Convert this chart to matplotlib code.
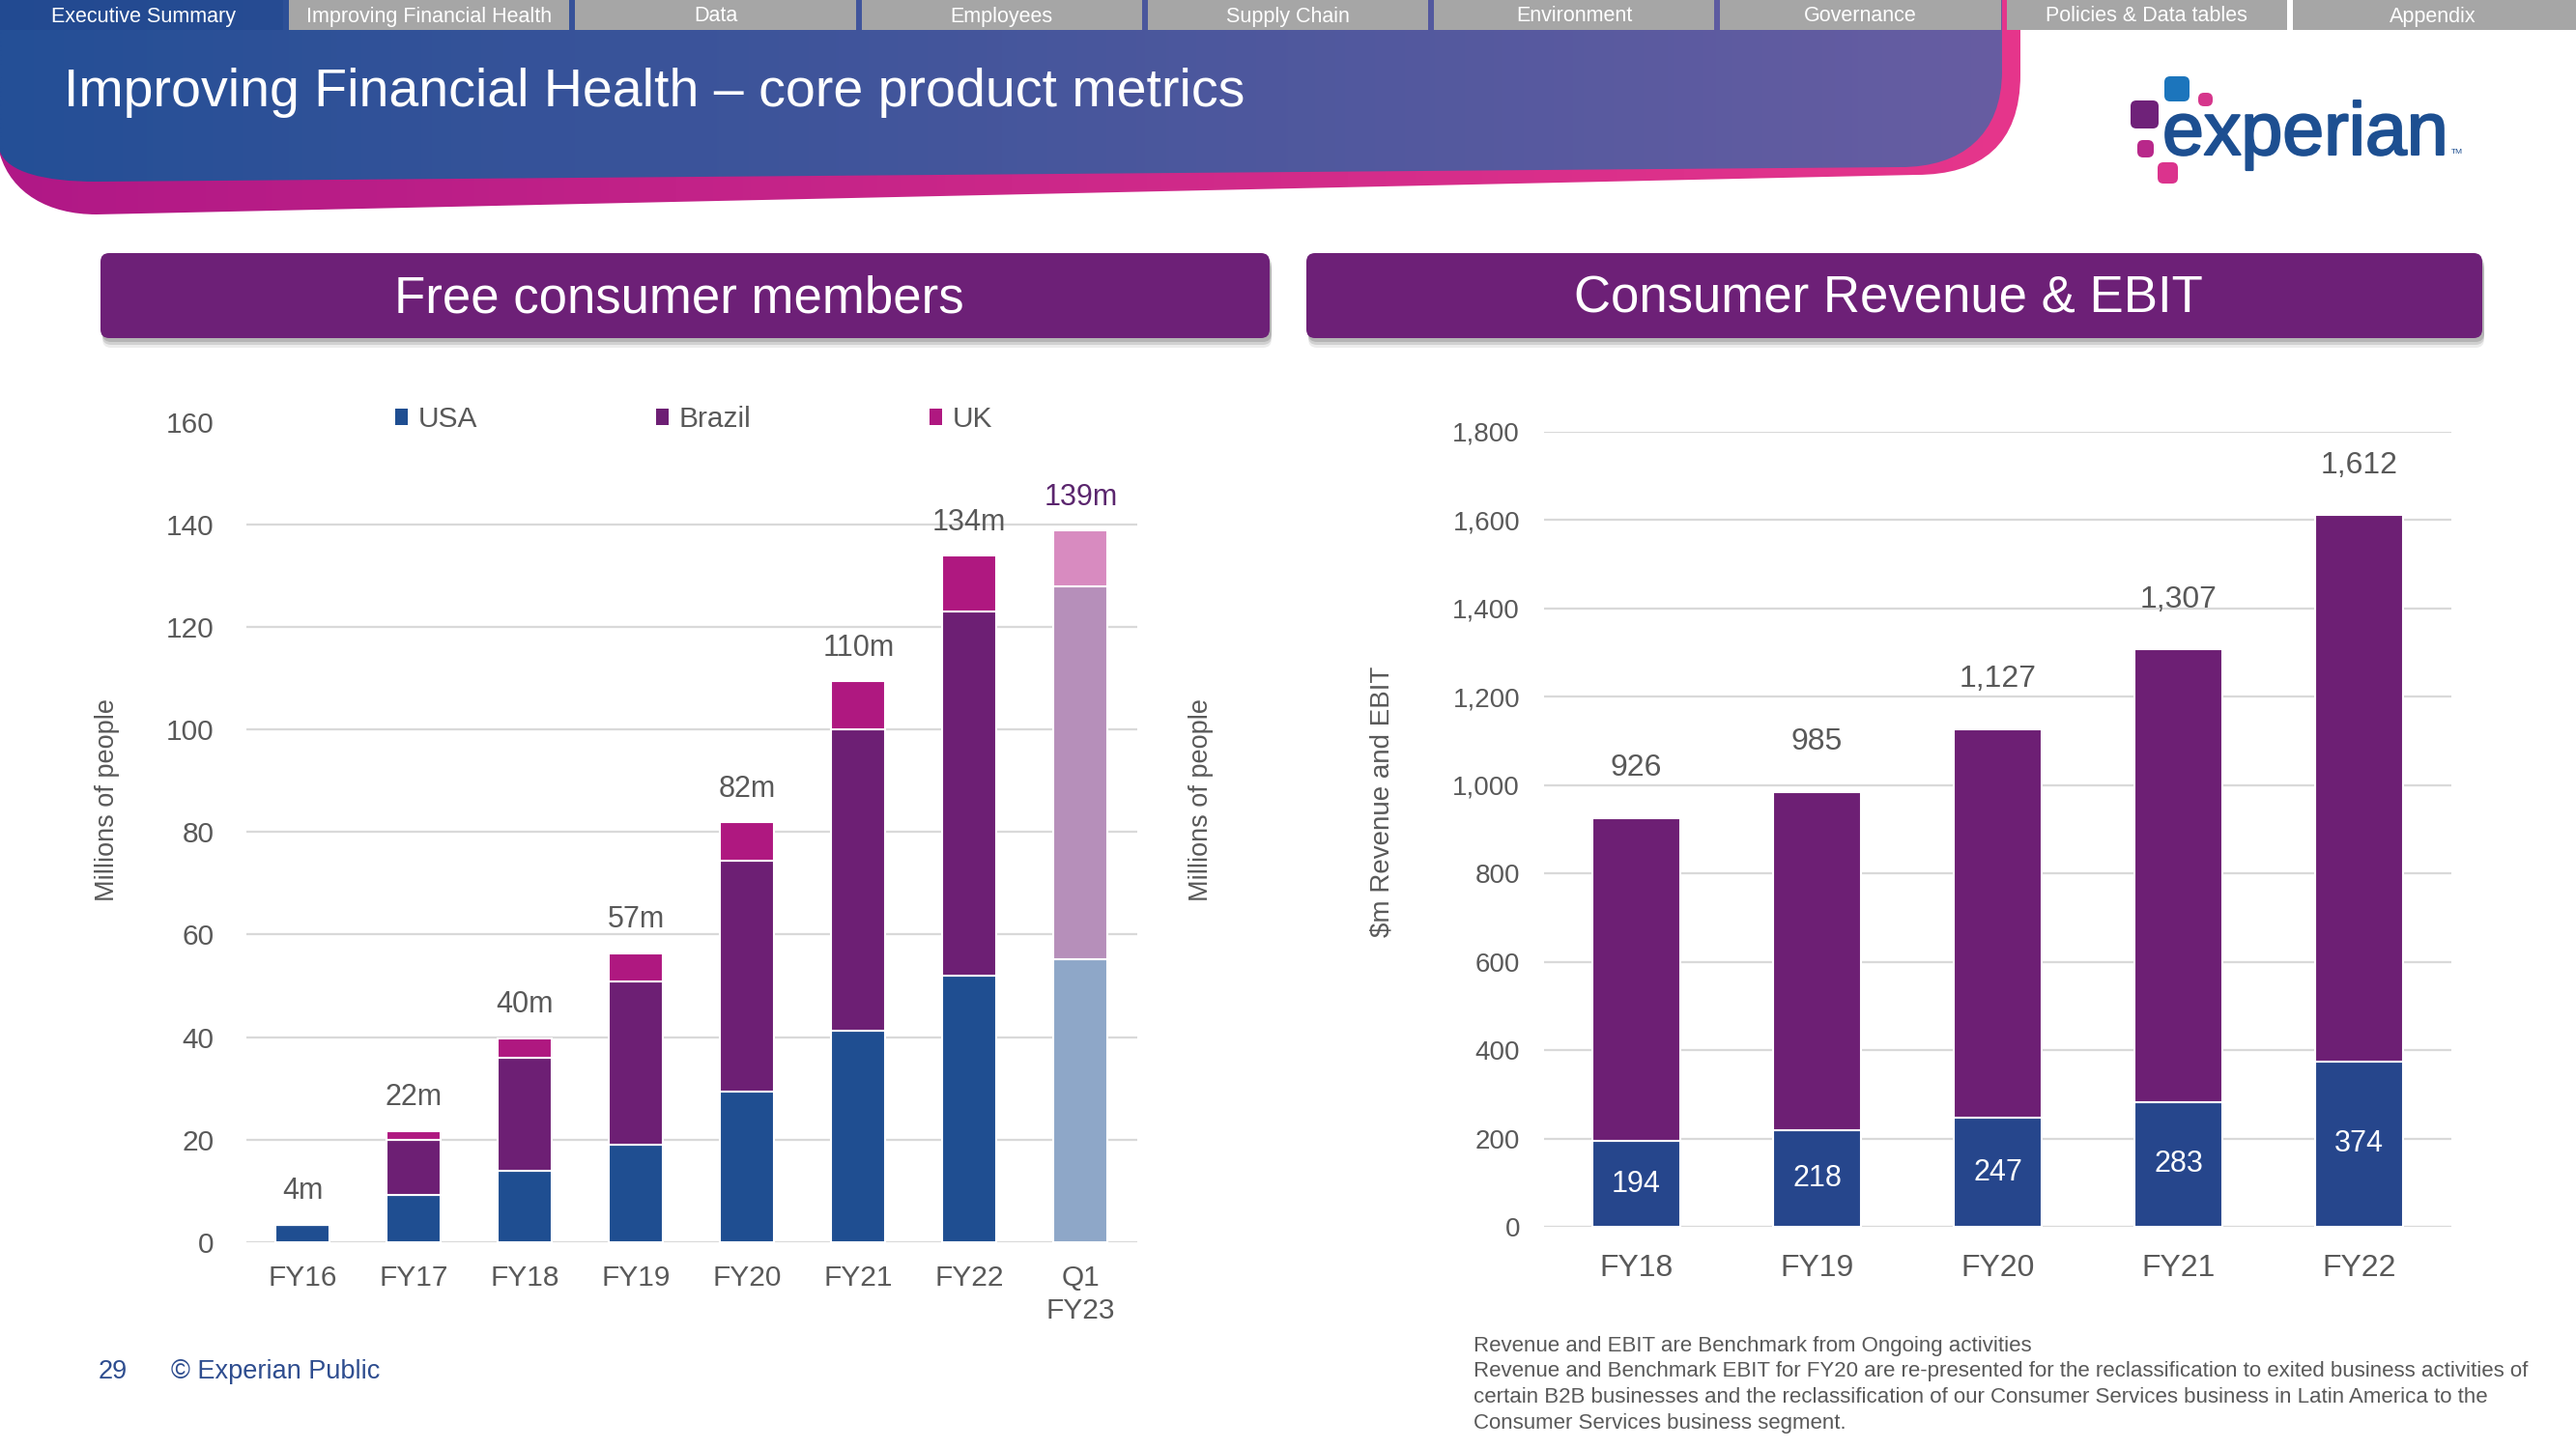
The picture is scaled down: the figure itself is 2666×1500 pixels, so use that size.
import matplotlib
matplotlib.use("Agg")
import matplotlib.pyplot as plt
import numpy as np
from matplotlib.patches import FancyBboxPatch, Rectangle, PathPatch, Patch
from matplotlib.path import Path
from matplotlib.ticker import FuncFormatter
import matplotlib.patheffects as pe

plt.rcParams['font.family'] = ['Liberation Sans', 'DejaVu Sans']

# ---------------- data ----------------
member_cats = ["FY16", "FY17", "FY18", "FY19", "FY20", "FY21", "FY22", "Q1\nFY23"]
usa = [3.4, 9.1, 13.9, 19.0, 29.4, 41.3, 52.0, 55.2]
brazil = [0.0, 10.9, 22.1, 31.9, 45.0, 58.8, 71.0, 72.8]
uk = [0.0, 1.6, 3.8, 5.5, 7.5, 9.3, 10.9, 10.8]
member_labels = ["4m", "22m", "40m", "57m", "82m", "110m", "134m", "139m"]
member_ticks = [0, 20, 40, 60, 80, 100, 120, 140, 160]
series_names = ["USA", "Brazil", "UK"]

fin_cats = ["FY18", "FY19", "FY20", "FY21", "FY22"]
revenue = [926, 985, 1127, 1307, 1612]
ebit = [194, 218, 247, 283, 374]
fin_ticks = [0, 200, 400, 600, 800, 1000, 1200, 1400, 1600, 1800]

nav_tabs = ["Executive Summary", "Improving Financial Health", "Data", "Employees",
            "Supply Chain", "Environment", "Governance", "Policies & Data tables", "Appendix"]
title = "Improving Financial Health \u2013 core product metrics"
box_titles = ["Free consumer members", "Consumer Revenue & EBIT"]
footnotes = ["Revenue and EBIT are Benchmark from Ongoing activities",
             "Revenue and Benchmark EBIT for FY20 are re-presented for the reclassification to exited business activities of",
             "certain B2B businesses and the reclassification of our Consumer Services business in Latin America to the",
             "Consumer Services business segment."]

# ---------------- colours ----------------
C_USA, C_BRA, C_UK = "#1F4E91", "#6D1F74", "#AF1880"
C_USA_L, C_BRA_L, C_UK_L = "#8EA7C8", "#B68FBA", "#D88BC0"
C_EBIT, C_REV = "#26468C", "#6D1F74"
GRID = "#D9D9D9"
TXT = "#595959"

W, H = 2666, 1500
fig = plt.figure(figsize=(W / 100, H / 100), dpi=100)

# ---------------- background / slide furniture ----------------
bg = fig.add_axes([0, 0, 1, 1], zorder=0)
bg.set_xlim(0, W)
bg.set_ylim(H, 0)
bg.axis('off')

M, L, C4, CL = Path.MOVETO, Path.LINETO, Path.CURVE4, Path.CLOSEPOLY
codes = [M, L, L, C4, C4, C4, L, C4, C4, C4, CL]


def grad_fill(verts, c0, c1, x0, x1, z):
    patch = PathPatch(Path(verts, codes), facecolor='none', edgecolor='none', zorder=z)
    bg.add_patch(patch)
    g = np.linspace(0, 1, 256)[:, None]
    cols = (np.array(c0)[None, :] * (1 - g) + np.array(c1)[None, :] * g) / 255.0
    im = bg.imshow(cols[None, :, :], extent=[x0, x1, 300, 0], aspect='auto', zorder=z,
                   interpolation='bilinear')
    im.set_clip_path(patch)


pink_v = [(0, 0), (2091, 0), (2091, 77), (2091, 150), (2050, 181), (1983, 181),
          (100, 222), (50, 222), (12, 200), (0, 160), (0, 0)]
blue_v = [(0, 0), (2072, 0), (2072, 73), (2072, 140), (2030, 173), (1967, 173),
          (100, 188), (45, 188), (8, 178), (0, 157), (0, 0)]
grad_fill(pink_v, (176, 24, 134), (230, 54, 140), 0, 2095, 1)
grad_fill(blue_v, (36, 79, 150), (103, 93, 162), 0, 2075, 2)
bg.set_xlim(0, W)
bg.set_ylim(H, 0)

# navigation tabs
tw = W / 9
for i, t in enumerate(nav_tabs):
    x0 = i * tw
    if i == 0:
        bg.add_patch(Rectangle((0, 0), tw - 3, 31, fc="#22488F", ec='none', zorder=3, alpha=0.6))
    else:
        bg.add_patch(Rectangle((x0 + 3, 0), tw - 6 if i < 8 else tw - 3, 31,
                               fc="#A6A6A6", ec='none', zorder=3))
    bg.text(x0 + tw / 2, 17, t, color='white', fontsize=15.5, ha='center', va='center', zorder=4)

bg.text(66, 110, title, color='white', fontsize=40, ha='left', va='baseline', zorder=4)

# logo
dots = [(2240, 79, 26, 26, "#1C75BC"), (2275, 96, 15, 14, "#D6368C"),
        (2205, 104, 29, 29, "#6F2279"), (2212, 145, 17, 18, "#B8288A"),
        (2233, 168, 21, 22, "#DB338D")]
for x0, y0, w, h, c in dots:
    bg.add_patch(FancyBboxPatch((x0, y0), w, h, boxstyle="round,pad=0,rounding_size=6",
                                fc=c, ec='none', zorder=4))
bg.text(2238, 160, "experian", color="#1D4F91", fontsize=55.5, ha='left', va='baseline', zorder=4,
        path_effects=[pe.withStroke(linewidth=1.6, foreground="#1D4F91")])
bg.text(2537, 159, "TM", color="#1D4F91", fontsize=6, ha='left', va='baseline', zorder=4)

# section title boxes
for (x0, x1), lab in zip([(104, 1314), (1352, 2569)], box_titles):
    for k, a in [(10, 0.15), (7, 0.25), (4, 0.35)]:
        bg.add_patch(FancyBboxPatch((x0 + 2, 262 + k), x1 - x0, 88,
                                    boxstyle="round,pad=0,rounding_size=9",
                                    fc="#808080", ec='none', alpha=a, zorder=3))
    bg.add_patch(FancyBboxPatch((x0, 262), x1 - x0, 88, boxstyle="round,pad=0,rounding_size=9",
                                fc="#6D2077", ec='none', zorder=4))
    bg.text((x0 + x1) / 2 - 6, 324, lab, color='white', fontsize=38, ha='center', va='baseline', zorder=5)

# footer
fig.text(102 / W, 1 - 1420 / H, "29", color="#2E4D8F", fontsize=19.5, va='center', ha='left')
fig.text(177 / W, 1 - 1420 / H, "\u00a9 Experian Public", color="#2E4D8F", fontsize=19.5,
         va='center', ha='left')
for yy, line in zip([1393, 1420, 1447, 1474], footnotes):
    fig.text(1525 / W, 1 - yy / H, line, color=TXT, fontsize=16.0, va='center', ha='left')

# ---------------- left chart: free consumer members ----------------
ax1 = fig.add_axes([255 / W, 1 - 1285.7 / H, (1177 - 255) / W, (1285.7 - 437) / H], zorder=2)
ax1.patch.set_alpha(0)
x = np.arange(len(member_cats))
usa_a, bra_a, uk_a = np.array(usa), np.array(brazil), np.array(uk)
n = len(x)
cu = [C_USA] * (n - 1) + [C_USA_L]
cb = [C_BRA] * (n - 1) + [C_BRA_L]
ck = [C_UK] * (n - 1) + [C_UK_L]
bw = 0.484
ax1.bar(x, usa_a, bw, color=cu, edgecolor='white', linewidth=1.5, zorder=3)
ax1.bar(x, bra_a, bw, bottom=usa_a, color=cb, edgecolor='white', linewidth=1.5, zorder=3)
ax1.bar(x, uk_a, bw, bottom=usa_a + bra_a, color=ck, edgecolor='white', linewidth=1.5, zorder=3)
for t in member_ticks[:-1]:
    ax1.axhline(t, color=GRID, lw=1.6, zorder=1)
ax1.set_xlim(-0.505, n - 1 + 0.51)
ax1.set_ylim(0, 160)
ax1.set_yticks(member_ticks)
ax1.set_xticks(x)
ax1.set_xticklabels(member_cats, linespacing=1.25)
for s in ax1.spines.values():
    s.set_visible(False)
ax1.tick_params(axis='both', length=0, colors=TXT, labelsize=21.5)
ax1.tick_params(axis='y', pad=24)
ax1.tick_params(axis='x', pad=17)
totals = usa_a + bra_a + uk_a
for i, (tot, lab) in enumerate(zip(totals, member_labels)):
    ax1.annotate(lab, (i, tot), xytext=(0, 25), textcoords='offset points', ha='center',
                 va='center', fontsize=22, color="#5B266E" if i == n - 1 else TXT, zorder=5)
ax1.set_ylabel("Millions of people", fontsize=19.5, color=TXT)
ax1.yaxis.set_label_coords(-0.142, 0.539)
ax1.text(1.0716, 0.539, "Millions of people", transform=ax1.transAxes, rotation=90,
         ha='center', va='center', fontsize=19.5, color=TXT)
handles = [Patch(facecolor=c, edgecolor='none') for c in (C_USA, C_BRA, C_UK)]
leg = ax1.legend(handles, series_names, ncol=3, loc='center left',
                 bbox_to_anchor=(409 / W, 1 - 434 / H), bbox_transform=fig.transFigure,
                 frameon=False, fontsize=21.5, handlelength=0.45, handleheight=0.5,
                 handletextpad=0.33, columnspacing=6.2, borderpad=0, borderaxespad=0)
for t in leg.get_texts():
    t.set_color(TXT)

# ---------------- right chart: consumer revenue & EBIT ----------------
ax2 = fig.add_axes([1598 / W, 1 - 1270 / H, (2537 - 1598) / W, (1270 - 447) / H], zorder=2)
ax2.patch.set_alpha(0)
x2 = np.arange(len(fin_cats))
rev_a, ebit_a = np.array(revenue), np.array(ebit)
ax2.bar(x2, ebit_a, 0.49, color=C_EBIT, edgecolor='white', linewidth=1.5, zorder=3)
ax2.bar(x2, rev_a - ebit_a, 0.49, bottom=ebit_a, color=C_REV, edgecolor='white', linewidth=1.5, zorder=3)
for t in fin_ticks:
    ax2.axhline(t, color=GRID, lw=1.6, zorder=1)
ax2.set_xlim(-0.51, len(x2) - 1 + 0.51)
ax2.set_ylim(0, 1800)
ax2.set_yticks(fin_ticks)
ax2.yaxis.set_major_formatter(FuncFormatter(lambda v, p: f"{v:,.0f}"))
ax2.set_xticks(x2)
ax2.set_xticklabels(fin_cats)
for s in ax2.spines.values():
    s.set_visible(False)
ax2.tick_params(axis='both', length=0, colors=TXT)
ax2.tick_params(axis='y', pad=18, labelsize=20)
ax2.tick_params(axis='x', pad=20, labelsize=23)
for i, (r, e) in enumerate(zip(rev_a, ebit_a)):
    ax2.annotate(f"{r:,}", (i, r), xytext=(0, 37), textcoords='offset points', ha='center',
                 va='center', fontsize=23, color=TXT, zorder=5)
    ax2.text(i, e / 2, f"{e}", ha='center', va='center', fontsize=22, color='white', zorder=5)
ax2.set_ylabel("$m Revenue and EBIT", fontsize=20, color=TXT, parse_math=False)
ax2.yaxis.set_label_coords(-0.165, 0.535)

fig.savefig("out.png", dpi=100, facecolor='white')
